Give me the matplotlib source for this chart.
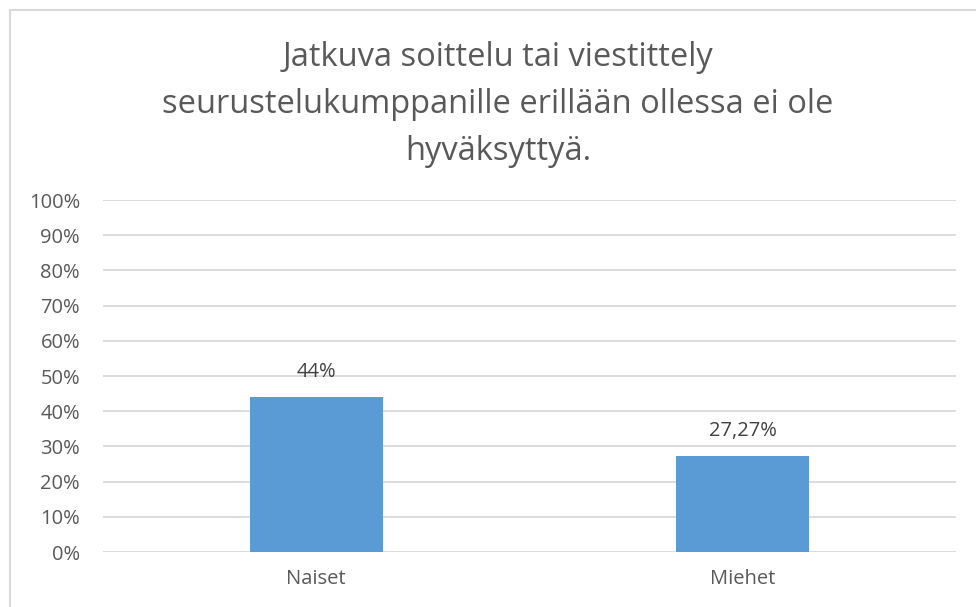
import matplotlib.pyplot as plt
from matplotlib.patches import Rectangle

categories = ["Naiset", "Miehet"]
values = [44.0, 27.27]
value_labels = ["44%", "27,27%"]
yticks = [0, 10, 20, 30, 40, 50, 60, 70, 80, 90, 100]
title_lines = ["Jatkuva soittelu tai viestittely",
               "seurustelukumppanille erillään ollessa ei ole",
               "hyväksyttyä."]

plt.rcParams["font.family"] = ["Open Sans", "DejaVu Sans"]

fig = plt.figure(figsize=(9.76, 6.07), dpi=100)
ax = fig.add_axes([0.1055, 0.0906, 0.874, 0.5799])

# chart border
fig.patches.append(Rectangle((10 / 976, -0.02), 1.05, 1 - 10 / 607 + 0.02,
                             transform=fig.transFigure, fill=False,
                             edgecolor="#d9d9d9", linewidth=1.5))

x = range(len(categories))
ax.bar(x, values, width=0.312, color="#5b9bd5", zorder=3)
for xi, v, lab in zip(x, values, value_labels):
    ax.annotate(lab, (xi, v), xytext=(0, 18), textcoords="offset points",
                ha="center", va="center", fontsize=14.5, color="#404040")

ax.set_xlim(-0.5, 1.5)
ax.set_ylim(0, 100)
ax.set_yticks(yticks)
ax.set_yticklabels([f"{t}%" for t in yticks])
ax.set_xticks(list(x))
ax.set_xticklabels(categories)
ax.tick_params(axis="both", length=0, labelsize=14.5, labelcolor="#595959")
ax.tick_params(axis="x", pad=12)
ax.tick_params(axis="y", pad=16.5)
ax.grid(axis="y", color="#d9d9d9", linewidth=1.3, zorder=0)
for s in ax.spines.values():
    s.set_visible(False)

for i, line in enumerate(title_lines):
    fig.text(498 / 976, 1 - (57 + 47.5 * i) / 607, line, ha="center",
             va="center", fontsize=23.5, color="#595959")

fig.savefig("out.png", dpi=100)
